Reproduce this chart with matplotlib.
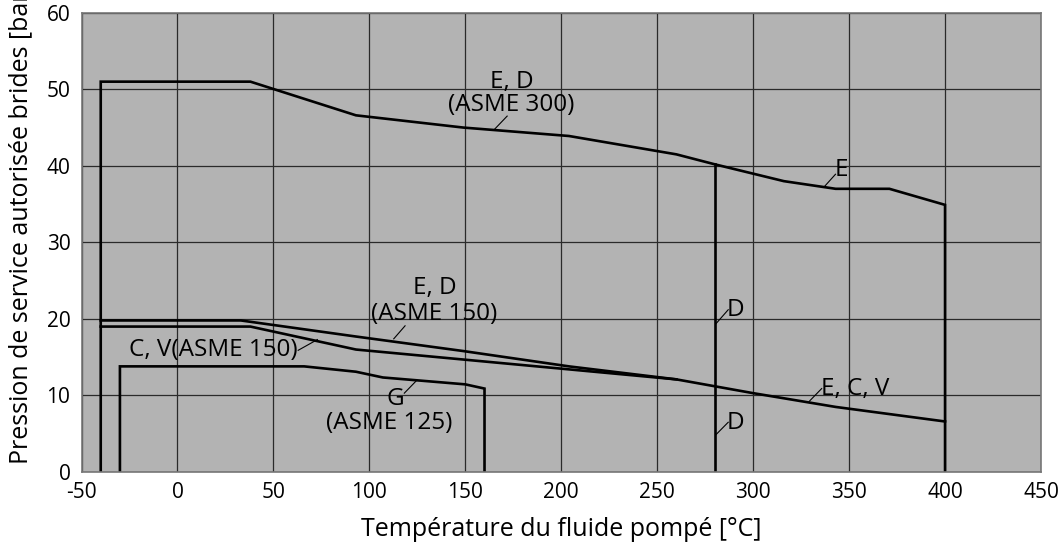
import numpy as np
import matplotlib
matplotlib.use('Agg')
from matplotlib import pyplot as plt

plt.rcParams['font.family'] = ['Open Sans', 'DejaVu Sans']
plt.rcParams['font.size'] = 15

# E, D (ASME 300)
asme300_t = [-40, -40, 38, 93, 149, 204, 260, 280, 316, 343, 371, 400, 400]
asme300_p = [0, 51.0, 51.0, 46.6, 45.0, 43.9, 41.5, 40.2, 38.0, 37.0, 37.0, 34.9, 0]
# D limit at 280 C
d_t = [280, 280]
d_p = [0, 40.2]
# E, D (ASME 150), continues as E, C, V
ed150_t = [-40, 33, 93, 149, 204, 260, 300, 343, 400]
ed150_p = [19.8, 19.8, 17.7, 15.8, 13.8, 12.1, 10.3, 8.5, 6.6]
# C, V (ASME 150)
cv150_t = [-40, 38, 93, 260]
cv150_p = [19.0, 19.0, 16.0, 12.1]
# G (ASME 125)
g125_t = [-30, -30, 66, 93, 107, 150, 160, 160]
g125_p = [0, 13.8, 13.8, 13.1, 12.35, 11.45, 10.9, 0]

xticks = np.arange(-50, 451, 50)
yticks = np.arange(0, 61, 10)

fig = plt.figure(figsize=(10.59, 5.48), dpi=100)
ax = fig.add_axes([0.077, 0.1387, 0.906, 0.838])
ax.set_facecolor('#b3b3b3')

lc = 'black'
lw = 1.9
ax.plot(asme300_t, asme300_p, color=lc, lw=lw, solid_joinstyle='miter')
ax.plot(d_t, d_p, color=lc, lw=lw)
ax.plot(ed150_t, ed150_p, color=lc, lw=lw)
ax.plot(cv150_t, cv150_p, color=lc, lw=lw)
ax.plot(g125_t, g125_p, color=lc, lw=lw, solid_joinstyle='miter')

ax.set_xlim(-50, 450)
ax.set_ylim(0, 60)
ax.set_xticks(xticks)
ax.set_yticks(yticks)
ax.set_xticklabels([str(v) for v in xticks])
ax.tick_params(length=0, labelsize=15)
ax.tick_params(axis='x', pad=7)
ax.tick_params(axis='y', pad=8)
ax.grid(True, color='#2a2a2a', lw=0.9)
ax.set_axisbelow(True)
for s in ax.spines.values():
    s.set_color('#777777')
    s.set_linewidth(1.2)

ax.set_xlabel('Température du fluide pompé [°C]', fontsize=18, labelpad=10)
ax.set_ylabel('Pression de service autorisée brides [bar]', fontsize=18)
ax.yaxis.label.set_ha('left')
ax.yaxis.set_label_coords(-0.05, 0.0174)

fs = 17.5
ld = dict(color='black', lw=0.8)

# labels with leader lines
ax.plot([171.8, 165.3], [46.5, 44.8], **ld)
ax.text(174, 51.0, 'E, D', ha='center', va='center', fontsize=fs)
ax.text(174, 47.9, '(ASME 300)', ha='center', va='center', fontsize=fs)

ax.plot([342.9, 336.8], [38.9, 37.2], **ld)
ax.text(342.3, 39.4, 'E', ha='left', va='center', fontsize=fs)

ax.plot([287, 280.7], [21.2, 19.4], **ld)
ax.text(286.3, 21.1, 'D', ha='left', va='center', fontsize=fs)
ax.plot([287, 280.7], [6.5, 4.9], **ld)
ax.text(286.3, 6.4, 'D', ha='left', va='center', fontsize=fs)

ax.plot([335.7, 329.3], [10.9, 9.25], **ld)
ax.text(335.3, 10.9, 'E, C, V', ha='left', va='center', fontsize=fs)

ax.plot([118.6, 112.7], [19.1, 17.4], **ld)
ax.text(134, 24.1, 'E, D', ha='center', va='center', fontsize=fs)
ax.text(134, 20.7, '(ASME 150)', ha='center', va='center', fontsize=fs)

ax.plot([62.9, 72.9], [15.9, 17.3], **ld)
ax.text(62.5, 15.9, 'C, V(ASME 150)', ha='right', va='center', fontsize=fs)

ax.plot([118.2, 124.4], [10.3, 11.9], **ld)
ax.text(113.5, 9.6, 'G', ha='center', va='center', fontsize=fs)
ax.text(110.5, 6.4, '(ASME 125)', ha='center', va='center', fontsize=fs)

fig.savefig('out.png', dpi=100)
